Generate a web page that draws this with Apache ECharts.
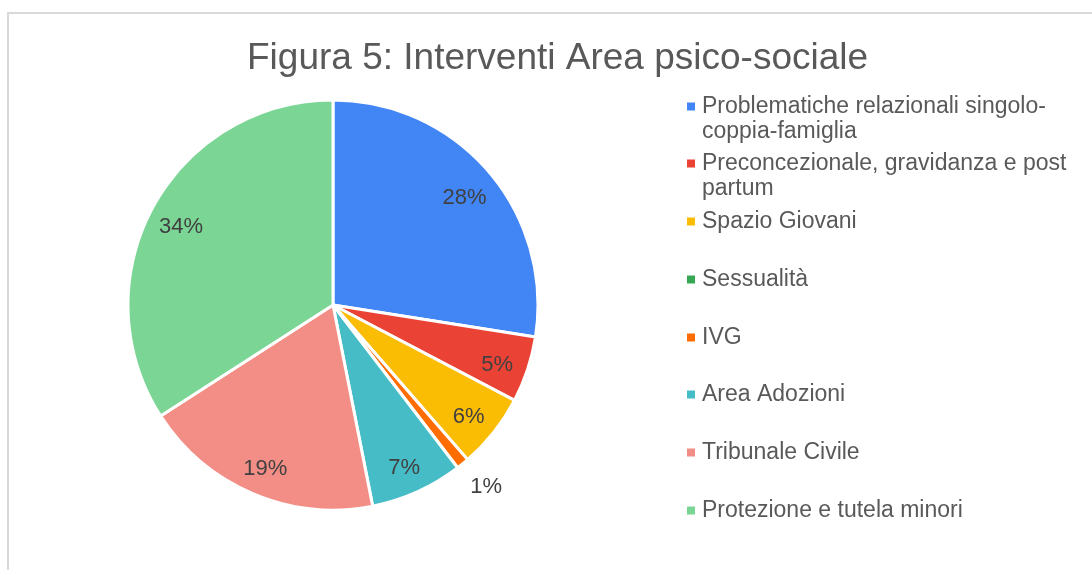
<!DOCTYPE html>
<html>
<head>
<meta charset="utf-8">
<script src="https://cdn.jsdelivr.net/npm/echarts@6/dist/echarts.min.js"></script>
<style>html,body{margin:0;padding:0;background:#fff}#c{width:1092px;height:570px}</style>
</head>
<body>
<div id="c"></div>
<script>
// ---- data ----
const titleText = 'Figura 5: Interventi Area psico-sociale';
const categories = [
  'Problematiche relazionali singolo-coppia-famiglia',
  'Preconcezionale, gravidanza e post partum',
  'Spazio Giovani',
  'Sessualità',
  'IVG',
  'Area Adozioni',
  'Tribunale Civile',
  'Protezione e tutela minori'
];
// legend wrapping as in the reference
const legendLines = [
  ['Problematiche relazionali singolo-', 'coppia-famiglia'],
  ['Preconcezionale, gravidanza e post', 'partum'],
  ['Spazio Giovani'],
  ['Sessualità'],
  ['IVG'],
  ['Area Adozioni'],
  ['Tribunale Civile'],
  ['Protezione e tutela minori']
];
const values = [27.5, 5.2, 5.9, 0, 1.0, 7.3, 19.0, 34.1];
const colors = ['#4285F4', '#EA4335', '#FBBC04', '#34A853', '#FF6D01', '#46BDC6', '#F28E86', '#7BD594'];

// ---- chart ----
const FONT = '"Liberation Sans", Arial, sans-serif';
const TITLE_SIZE = 37;
const chart = echarts.init(document.getElementById('c'));
const center = [333, 305];
const R = 205;
const total = values.reduce((a, b) => a + b, 0);

// measure title so that its centre sits where the reference puts it
const cv = document.createElement('canvas').getContext('2d');
cv.font = TITLE_SIZE + 'px ' + FONT;
const titleW = cv.measureText(titleText).width;

const pieData = categories.map((n, i) => ({ name: n, value: values[i], itemStyle: { color: colors[i] } }));
const labelData = categories.map((n, i) => {
  const d = { name: n, value: values[i] };
  if (values[i] === 0) d.label = { show: false };
  else if (values[i] / total < 0.02) {
    d.label = { position: 'outside', distanceToLabelLine: 0, offset: [0, 14] };
    d.labelLine = { show: false, length: 12, length2: 0 };
  }
  return d;
});

const legendTops = [105, 162, 220, 278, 336, 393, 451, 509];
const legends = categories.map((n, i) => {
  const two = legendLines[i].length > 1;
  return {
    orient: 'vertical',
    left: 687,
    top: legendTops[i] - 11,
    padding: 0,
    itemWidth: 8,
    itemHeight: two ? 33 : 8,
    icon: two ? 'path://M0,0L8,0L8,8L0,8Z M0,33L8,33' : 'rect',
    itemStyle: { borderWidth: 0 },
    selectedMode: false,
    data: [{ name: n, itemStyle: { color: colors[i], borderWidth: 0 } }],
    formatter: () => legendLines[i].join('\n'),
    textStyle: { fontFamily: FONT, fontSize: 23, color: '#595959', lineHeight: 25, padding: [0, 0, 0, 2] }
  };
});

chart.setOption({
  animation: false,
  backgroundColor: '#ffffff',
  title: {
    text: titleText,
    left: Math.round(558 - titleW / 2),
    top: 40,
    padding: 0,
    textStyle: { fontFamily: FONT, fontSize: TITLE_SIZE, fontWeight: 'normal', color: '#595959' }
  },
  graphic: [{
    type: 'rect',
    shape: { x: 8, y: 13, width: 1200, height: 700 },
    style: { fill: 'none', stroke: '#d9d9d9', lineWidth: 2 },
    silent: true
  }],
  legend: legends,
  series: [
    {
      type: 'pie',
      center: center,
      radius: R,
      startAngle: 90,
      clockwise: true,
      avoidLabelOverlap: false,
      silent: true,
      label: { show: false },
      labelLine: { show: false },
      itemStyle: { borderColor: '#ffffff', borderWidth: 3 },
      data: pieData
    },
    {
      type: 'pie',
      center: center,
      radius: [135, R],
      startAngle: 90,
      clockwise: true,
      avoidLabelOverlap: false,
      silent: true,
      itemStyle: { color: 'rgba(0,0,0,0)', borderWidth: 0 },
      label: {
        show: true,
        position: 'inside',
        offset: [0, 5],
        fontFamily: FONT,
        fontSize: 22,
        color: '#404040',
        formatter: p => Math.round(p.percent) + '%'
      },
      labelLine: { show: false },
      data: labelData
    }
  ]
});
</script>
</body>
</html>
